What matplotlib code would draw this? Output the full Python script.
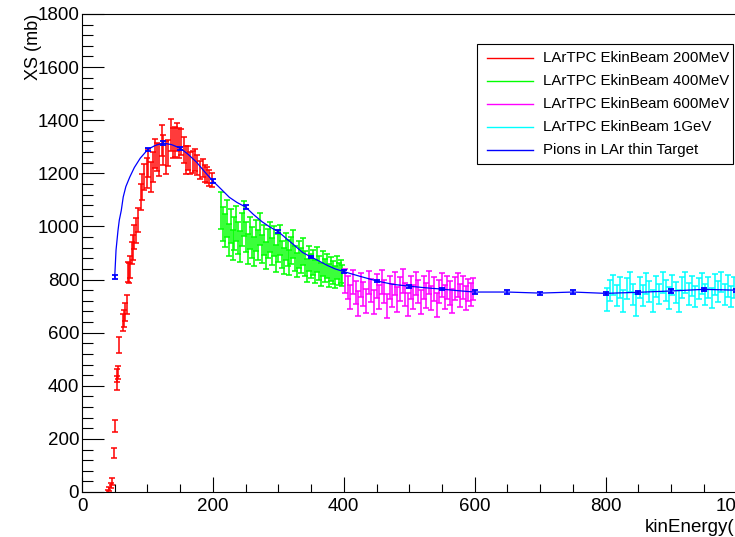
import matplotlib
matplotlib.use("Agg")
import matplotlib.pyplot as plt
from matplotlib.lines import Line2D
from matplotlib.patches import Rectangle
from matplotlib.ticker import MultipleLocator

plt.rcParams['font.family'] = ['Liberation Sans', 'DejaVu Sans']

# ---- LArTPC, 200 MeV beam ----
red_E = [40, 42, 44, 46, 49, 51, 53, 54, 55, 57,
         63, 64, 66, 68, 70, 72, 73, 76, 78, 80,
         83, 86, 90, 92, 95, 99, 101, 105, 109, 112,
         115, 118, 122, 124, 128, 131, 136, 139, 142, 145,
         148, 152, 156, 159, 162, 165, 169, 173, 176, 180,
         185, 188, 191, 194, 198]
red_XS = [3, 10, 25, 40, 147, 248, 410, 440, 450, 553,
          640, 655, 678, 707, 828, 824, 847, 900, 922, 960,
          986, 1024, 1111, 1148, 1186, 1201, 1239, 1186, 1224, 1276,
          1261, 1250, 1325, 1288, 1261, 1276, 1344, 1314, 1318, 1337,
          1314, 1318, 1288, 1250, 1257, 1239, 1243, 1250, 1231, 1212,
          1220, 1201, 1193, 1182, 1175]
red_err = [6, 8, 10, 12, 20, 22, 25, 25, 25, 30,
           32, 32, 33, 35, 38, 38, 40, 42, 47, 45,
           47, 45, 50, 48, 50, 55, 52, 58, 55, 55,
           52, 60, 58, 55, 62, 50, 60, 55, 58, 52,
           55, 50, 48, 52, 45, 42, 40, 40, 38, 35,
           35, 32, 30, 30, 28]

# ---- LArTPC, 400 MeV beam ----
green_E = [212, 215, 218, 221, 224, 227, 230, 233, 236, 239,
           242, 245, 248, 251, 254, 257, 260, 263, 266, 269,
           272, 275, 278, 281, 284, 287, 290, 293, 296, 299,
           302, 305, 308, 311, 314, 317, 320, 323, 326, 329,
           332, 335, 338, 341, 344, 347, 350, 353, 356, 359,
           362, 365, 368, 371, 374, 377, 380, 383, 386, 389,
           392, 395, 398]
green_XS = [1060, 1010, 985, 1030, 950, 1000, 930, 975, 1010, 955,
            925, 990, 1030, 960, 915, 975, 940, 905, 965, 930,
            990, 915, 950, 890, 935, 960, 905, 945, 880, 920,
            950, 895, 870, 925, 900, 865, 910, 935, 880, 855,
            895, 870, 905, 860, 835, 880, 850, 865, 830, 875,
            845, 820, 860, 835, 850, 815, 840, 825, 810, 845,
            820, 830, 815]
green_err = [70, 65, 62, 68, 60, 64, 58, 62, 66, 60,
             58, 62, 65, 58, 55, 60, 57, 54, 58, 55,
             60, 53, 56, 52, 55, 58, 52, 55, 50, 53,
             56, 50, 48, 52, 50, 47, 50, 53, 48, 46,
             50, 47, 50, 46, 44, 48, 45, 47, 44, 47,
             45, 43, 46, 44, 45, 42, 44, 43, 41, 44,
             42, 43, 41]

# ---- LArTPC, 600 MeV beam ----
mag_E = [402, 406, 410, 414, 418, 422, 426, 430, 434, 438,
         442, 446, 450, 454, 458, 462, 466, 470, 474, 478,
         482, 486, 490, 494, 498, 502, 506, 510, 514, 518,
         522, 526, 530, 534, 538, 542, 546, 550, 554, 558,
         562, 566, 570, 574, 578, 582, 586, 590, 594, 598]
mag_XS = [795, 770, 735, 790, 750, 710, 780, 745, 720, 790,
          760, 715, 775, 735, 790, 755, 700, 770, 740, 785,
          725, 765, 795, 745, 705, 770, 735, 785, 755, 715,
          770, 740, 790, 730, 765, 705, 755, 780, 735, 770,
          750, 720, 765, 780, 740, 770, 730, 760, 745, 765]
mag_err = [45, 44, 46, 45, 43, 47, 44, 45, 46, 44,
           43, 45, 46, 44, 45, 43, 46, 44, 45, 43,
           46, 44, 45, 43, 44, 45, 46, 44, 43, 45,
           44, 46, 43, 45, 44, 46, 43, 45, 44, 42,
           44, 45, 43, 44, 42, 43, 44, 42, 43, 42]

# ---- LArTPC, 1 GeV beam ----
cyan_E = [802, 807, 812, 817, 822, 827, 832, 837, 842, 847,
          852, 857, 862, 867, 872, 877, 882, 887, 892, 897,
          902, 907, 912, 917, 922, 927, 932, 937, 942, 947,
          952, 957, 962, 967, 972, 977, 982, 987, 992, 997,
          1002, 1007, 1012, 1017, 1022, 1027, 1032, 1037, 1042, 1047,
          1052, 1057, 1062]
cyan_XS = [725, 760, 780, 740, 770, 720, 765, 790, 745, 705,
           770, 740, 785, 755, 720, 775, 745, 790, 760, 730,
           780, 750, 720, 770, 790, 745, 775, 735, 765, 785,
           745, 770, 730, 780, 755, 790, 745, 775, 735, 770,
           785, 755, 775, 745, 780, 760, 790, 750, 770, 755,
           780, 765, 775]
cyan_err = [42, 40, 39, 41, 40, 42, 39, 38, 40, 42,
            38, 40, 39, 38, 41, 39, 38, 40, 39, 41,
            38, 40, 41, 38, 40, 41, 38, 39, 40, 38,
            39, 41, 38, 40, 39, 38, 40, 41, 39, 38,
            40, 39, 38, 41, 39, 40, 38, 39, 40, 38,
            39, 40, 38]

# ---- Pions in LAr, thin target (0 = no error bar drawn) ----
blue_E = [50, 52, 55, 57, 60, 63, 67, 73, 80, 89,
          101, 112, 124, 137, 150, 162, 175, 187, 200, 212,
          225, 237, 250, 262, 275, 287, 300, 312, 325, 337,
          350, 362, 375, 387, 400, 425, 450, 475, 500, 525,
          550, 575, 600, 650, 700, 750, 800, 850, 900, 950,
          1000, 1050]
blue_XS = [810, 911, 985, 1024, 1060, 1111, 1150, 1186, 1222, 1257,
           1291, 1305, 1314, 1308, 1295, 1272, 1242, 1207, 1171, 1142,
           1110, 1090, 1073, 1045, 1018, 998, 980, 955, 928, 902,
           885, 870, 853, 840, 830, 812, 795, 782, 775, 769,
           764, 758, 753, 753, 749, 753, 748, 752, 757, 763,
           760, 768]
blue_err = [8, 0, 0, 0, 0, 0, 0, 0, 0, 0,
            6, 0, 6, 0, 6, 0, 0, 0, 6, 0,
            0, 0, 6, 0, 0, 0, 6, 0, 0, 0,
            5, 0, 0, 0, 6, 0, 5, 0, 5, 0,
            5, 0, 6, 6, 6, 6, 6, 6, 6, 6,
            6, 6]

legend_labels = ["LArTPC EkinBeam 200MeV", "LArTPC EkinBeam 400MeV",
                 "LArTPC EkinBeam 600MeV", "LArTPC EkinBeam 1GeV",
                 "Pions in LAr thin Target"]
colors = ["#ff0000", "#00ff00", "#ff00ff", "#00ffff", "#0000ff"]

W, H = 735, 537
fig = plt.figure(figsize=(W / 100, H / 100), dpi=100)
fig.patch.set_facecolor("white")

# frame in pixel units (extends past the right edge of the canvas)
px0, px1, py0, py1 = 82, 779, 492, 14
ax = fig.add_axes([px0 / W, (H - py0) / H, (px1 - px0) / W, (py0 - py1) / H])
ax.set_xlim(0, 1065)
ax.set_ylim(0, 1800)

for s in ax.spines.values():
    s.set_linewidth(0.8)
    s.set_color("black")

ax.xaxis.set_major_locator(MultipleLocator(200))
ax.xaxis.set_minor_locator(MultipleLocator(50))
ax.yaxis.set_major_locator(MultipleLocator(200))
ax.yaxis.set_minor_locator(MultipleLocator(40))
ax.tick_params(axis="x", which="major", direction="in", length=11, width=0.8,
               labelsize=13.5, pad=4, top=False)
ax.tick_params(axis="x", which="minor", direction="in", length=6, width=0.8, top=False)
ax.tick_params(axis="y", which="major", direction="in", length=16, width=0.8,
               labelsize=13.5, pad=2, right=False)
ax.tick_params(axis="y", which="minor", direction="in", length=8, width=0.8, right=False)

series = [(red_E, red_XS, red_err), (green_E, green_XS, green_err),
          (mag_E, mag_XS, mag_err), (cyan_E, cyan_XS, cyan_err)]
for (E, XS, err), c in zip(series, colors[:4]):
    ax.errorbar(E, XS, yerr=err, fmt="none", ecolor=c, elinewidth=1.1,
                capsize=2.5, capthick=1.1, zorder=2)

ax.plot(blue_E, blue_XS, color=colors[4], lw=0.9, zorder=3)
bE = [e for e, d in zip(blue_E, blue_err) if d > 0]
bX = [x for x, d in zip(blue_XS, blue_err) if d > 0]
bD = [d for d in blue_err if d > 0]
ax.errorbar(bE, bX, yerr=bD, fmt="none", ecolor=colors[4],
            elinewidth=1.2, capsize=2.5, capthick=1.3, zorder=3)

# axis titles
ax.text(1.0, (py0 - 532) / (py0 - py1), "kinEnergy(MeV)", transform=ax.transAxes,
        ha="right", va="baseline", fontsize=13.5)
ax.text((33 - px0) / (px1 - px0), 1.0, "XS (mb)", transform=ax.transAxes,
        rotation=90, ha="center", va="top", fontsize=13)

# legend box
def fx(x):
    return x / W

def fy(y):
    return (H - y) / H

fig.patches.append(Rectangle((fx(477), fy(164)), fx(733) - fx(477), fy(44) - fy(164),
                             transform=fig.transFigure, facecolor="white",
                             edgecolor="black", lw=0.8, zorder=5))
rows = [58, 81, 104, 127, 150]
for yy, lab, c in zip(rows, legend_labels, colors):
    fig.lines.append(Line2D([fx(487), fx(533)], [fy(yy), fy(yy)],
                            transform=fig.transFigure, color=c, lw=1.0, zorder=6))
    fig.text(fx(543), fy(yy), lab, ha="left", va="center", fontsize=10.8, zorder=6)

fig.savefig("out.png", dpi=100)
